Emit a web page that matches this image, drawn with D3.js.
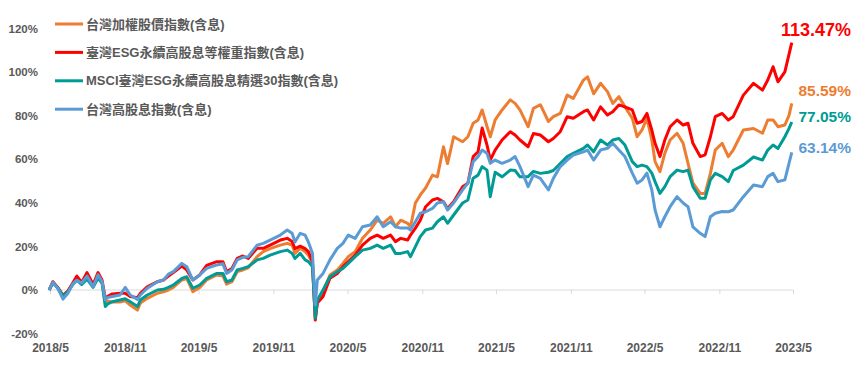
<!DOCTYPE html>
<html>
<head>
<meta charset="utf-8">
<script src="https://cdn.jsdelivr.net/npm/d3@7"></script>
<style>
  body { margin: 0; background: #fff; }
  text { font-family: "Liberation Sans", Arial, "Noto Sans CJK TC", sans-serif; font-weight: bold; }
</style>
</head>
<body>
<div id="content"></div>
<script>
// dates
const dates = [
  "2018-04-29","2018-05-08","2018-05-20","2018-06-02","2018-06-14","2018-06-26","2018-07-06","2018-07-18","2018-07-31","2018-08-15",
  "2018-08-27","2018-09-06","2018-09-14","2018-09-19","2018-10-01","2018-10-20","2018-11-02","2018-11-14","2018-12-02","2018-12-09",
  "2018-12-26","2019-01-20","2019-02-04","2019-02-16","2019-02-28","2019-03-21","2019-04-02","2019-04-17","2019-05-04","2019-05-21",
  "2019-06-15","2019-06-30","2019-07-09","2019-07-22","2019-08-04","2019-08-18","2019-08-31","2019-09-22","2019-10-07","2019-10-24",
  "2019-11-18","2019-12-05","2019-12-17","2019-12-24","2020-01-06","2020-01-18","2020-01-26","2020-02-05","2020-02-12","2020-02-17",
  "2020-03-02","2020-03-19","2020-04-06","2020-04-20","2020-05-03","2020-05-20","2020-06-07","2020-06-26","2020-07-13","2020-07-28",
  "2020-08-15","2020-08-27","2020-09-09","2020-09-26","2020-10-03","2020-10-15","2020-10-27","2020-11-09","2020-11-26","2020-12-08",
  "2020-12-23","2021-01-02","2021-01-17","2021-02-08","2021-02-21","2021-03-06","2021-03-18","2021-03-28","2021-04-09","2021-04-17",
  "2021-04-29","2021-05-16","2021-06-05","2021-06-17","2021-06-29","2021-07-19","2021-08-01","2021-08-18","2021-09-07","2021-09-19",
  "2021-10-06","2021-10-23","2021-11-07","2021-12-02","2021-12-12","2021-12-27","2022-01-13","2022-01-30","2022-02-12","2022-02-27",
  "2022-03-14","2022-04-01","2022-04-13","2022-04-25","2022-05-07","2022-05-19","2022-05-27","2022-06-08","2022-06-20","2022-07-03",
  "2022-07-20","2022-08-04","2022-08-16","2022-08-28","2022-09-15","2022-09-27","2022-10-10","2022-10-22","2022-11-08","2022-11-23",
  "2022-12-05","2022-12-30","2023-01-24","2023-02-15","2023-02-28","2023-03-13","2023-03-25","2023-04-11","2023-04-21","2023-04-28"
];

// cumulative return (%)
const taiex = [
  0,3.5,1.0,-2.5,-0.5,3,5.5,3,6,1.5,
  6,3.5,-6,-5,-5.5,-5.5,-5,-6.9,-9.2,-6,
  -3.8,-1.5,-0.8,0,1.2,4.6,5.3,-0.8,1.2,4.6,
  6.9,6.4,2.7,3.8,8.4,9.2,10.2,15.3,17.6,19,
  20.6,21.4,20.6,16.8,19.1,17.6,16,12.2,-13,-5.4,
  -0.8,6.9,9.2,12.2,15.3,17.6,23.7,27.5,32,30.6,
  33.6,29,32,30.6,29,39.9,43.6,46.8,52.7,51.9,
  65.7,58,70.3,68,70.3,76.5,78,82.6,75,70.3,
  78,82.6,87.2,85.6,82.6,74.9,83.3,85,77.3,79.5,
  81,89.4,87.9,96.3,97.8,90,94.8,91,85.6,88.7,
  84,78.8,70.3,73.4,78.8,68.8,58.9,54.3,62.7,68.8,
  71.9,67.3,58.1,49,44.3,44.3,53.5,64.2,67.3,61.2,
  64.2,73.4,74.1,71.9,78,78,74.9,75.7,80,85.59
];
const esgEqual = [
  0,3.8,1.2,-2.5,-0.5,3.2,6.4,3.5,8,2.5,
  8,4.5,-4,-3,-1.8,-1.5,-1.5,-3,-3.5,-1.5,
  1.5,3.8,4.6,6.4,8,11,9.2,4.6,6.9,11.3,
  13,13,8.4,9.9,14.5,15.6,14.5,19.1,19.1,20.6,
  22.9,23.7,22.2,19,20.1,19,17.6,13,-13.8,-6,
  -3,5.4,7.6,10.7,13,16,20.6,23.7,25.2,23.7,
  25.2,22.2,23.7,22.9,25.2,28.4,32,38.2,41.3,42,
  40.5,37.4,40.5,47.4,49,61.2,63.4,74.3,66.5,59.6,
  64.2,68.8,72.6,71.1,68.8,65.7,71.8,71.1,68,69.5,
  72.6,79.5,78.8,81.8,82.6,78,84,80.3,81.8,84.9,
  84,82.6,76.5,77.3,81,73.4,67.3,61.2,68.8,74.9,
  78,75.7,76.5,67.3,61.2,62,70.3,79.5,81,78,
  79.5,89.4,94.8,91.7,96.3,102.4,95.5,100.1,108,113.47
];
const msciEsg30 = [
  0,3.2,1.0,-2.8,-0.8,2.5,4.5,2.5,5,1.2,
  5.5,3,-7.6,-6.5,-5.4,-4.6,-4,-5.4,-7.6,-4.6,
  -2.3,0,0.3,1.2,2.3,5.3,6.1,0.8,2.3,5.3,
  7.6,7.6,3.8,4.6,9.2,9.9,10.7,13.8,14.5,16,
  17.6,18.3,16.8,14.5,16.8,13.8,13,10.7,-12.9,-4.6,
  0,6.1,8.4,9.9,12.2,15.3,18.3,19.1,20.6,19.1,
  20.6,16.8,16.8,17.6,15.3,19.9,24.5,27.5,28.4,31.3,
  33.6,30.6,34.4,39.9,41.3,51.3,52.7,56.6,55,42.8,
  54,51.9,55,54.8,51.9,52,54.4,53.5,54,54.8,
  58,61.2,62.7,65,66.5,63.4,68.8,66.5,68.8,69.5,
  66.5,58.9,56.6,57.3,56.6,53.6,49.7,44.3,47.4,52,
  55,54.3,55,47.4,42.1,42.1,50.5,53.5,52,49.7,
  54.8,57.3,61,59.6,64.2,66.5,64.9,70.3,74,77.05
];
const highDiv = [
  0,3.5,0.8,-4.2,-1.5,2.8,4.5,3.2,6.4,1.5,
  7,3.8,-4.6,-3.5,-3,-2.3,1.2,-2.3,-4.3,-2.3,
  0.8,3.8,4.6,7.3,8.4,12.2,10.7,4.6,6.9,9.9,
  11.5,12,7.6,9.2,13.8,15,15.3,20.6,21.4,22.9,
  25.2,27.5,26,22,26,25.2,22,16.8,-6.9,4.6,
  7.6,13.8,19.1,21.4,25.2,23.7,29,29.8,33.6,29,
  31.3,29,28.4,28.4,27.5,31.3,35.2,35.9,37.4,39.9,
  40.5,36.7,39.9,45.9,49,58.9,61.2,64.2,62.7,58.1,
  59.6,58.1,59.6,61.2,56.6,47.4,52.7,51.2,45.9,51.2,
  56.6,59.6,61.9,63.4,64.2,59.6,64.2,65,67.3,64.2,
  61.2,53.6,49,50.5,53.6,45.9,36.7,29,33.6,38.2,
  42.8,39.9,38.2,29,26,24.5,33.6,35.2,36,35.9,
  36.7,42.8,48.2,47.4,52,53.5,49.7,50.5,58,63.14
];

const seriesNames = ["台灣加權股價指數(含息)", "臺灣ESG永續高股息等權重指數(含息)", "MSCI臺灣ESG永續高股息精選30指數(含息)", "台灣高股息指數(含息)"];
const seriesValues = [taiex, esgEqual, msciEsg30, highDiv];
const colors = ["#ED7D31", "#FF0000", "#009B95", "#5B9BD5"];
const yTicks = [-20, 0, 20, 40, 60, 80, 100, 120];

const width = 866, height = 367;
const svg = d3.select("#content").append("svg")
    .attr("width", width).attr("height", height);

const parse = d3.timeParse("%Y-%m-%d");
const start = new Date(2018, 4, 1), end = new Date(2023, 4, 1);
const x = d3.scaleTime()
    .domain([start, end])
    .range([50, 793]);
const y = d3.scaleLinear()
    .domain([-20, 120])
    .range([333.6, 28.4]);

// y axis labels
svg.append("g")
    .attr("transform", "translate(38,0)")
    .call(d3.axisLeft(y).tickValues(yTicks).tickSize(0).tickPadding(0).tickFormat(d => d + "%"))
    .call(g => g.select(".domain").remove())
    .selectAll("text")
    .attr("fill", "#595959")
    .style("font-size", "11.5px");

// zero line with ticks, every 6 months from 2018/5
const xTicks = d3.timeMonth.range(start, d3.timeDay.offset(end, 1), 6);
svg.append("g")
    .attr("transform", `translate(0,${y(0)})`)
    .call(d3.axisBottom(x).tickValues(xTicks).tickSize(4).tickFormat(""))
    .call(g => g.selectAll("line, path").attr("stroke", "#D9D9D9"))
    .call(g => g.select(".domain").attr("d", `M${x.range()[0] - 2},0H${x.range()[1]}`));

// date labels at the bottom
svg.append("g")
    .attr("transform", "translate(0,333)")
    .call(d3.axisBottom(x).tickValues(xTicks).tickSize(0).tickPadding(10.5).tickFormat(d3.timeFormat("%Y/%-m")))
    .call(g => g.select(".domain").remove())
    .selectAll("text")
    .attr("fill", "#595959")
    .style("font-size", "12px");

const line = d3.line()
    .x(d => x(d.date))
    .y(d => y(d.v));

const series = seriesValues.map((vals, i) => ({
    name: seriesNames[i],
    color: colors[i],
    points: vals.map((v, j) => ({ date: parse(dates[j]), v: v }))
}));

svg.append("g")
    .selectAll("path")
    .data(series)
    .enter().append("path")
    .attr("fill", "none")
    .attr("stroke", d => d.color)
    .attr("stroke-width", 3)
    .attr("stroke-linejoin", "round")
    .attr("d", d => line(d.points));

// end value labels
const labelShift = [-13, -13, -5, -5];
const labelSize = [15.5, 18, 15.5, 15.5];
svg.append("g")
    .selectAll("text")
    .data(series)
    .enter().append("text")
    .attr("x", 851)
    .attr("y", (d, i) => y(d.points[d.points.length - 1].v) + labelShift[i])
    .attr("dy", "0.35em")
    .attr("text-anchor", "end")
    .attr("fill", d => d.color)
    .style("font-size", (d, i) => labelSize[i] + "px")
    .text(d => d.points[d.points.length - 1].v.toFixed(2) + "%");

// legend
const legend = svg.append("g")
    .selectAll("g")
    .data(series)
    .enter().append("g")
    .attr("transform", (d, i) => `translate(55,${24 + i * 28.4})`);

legend.append("line")
    .attr("x1", 0).attr("x2", 28)
    .attr("stroke", d => d.color)
    .attr("stroke-width", 3);

legend.append("text")
    .attr("x", 31)
    .attr("dy", "0.35em")
    .attr("fill", "#595959")
    .style("font-size", "13px")
    .text(d => d.name);
</script>
</body>
</html>
